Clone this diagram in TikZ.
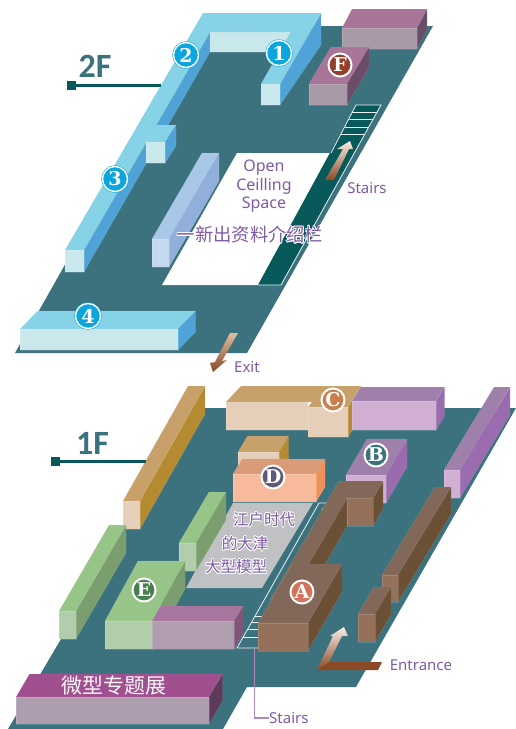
\documentclass[tikz,border=0pt]{standalone}
\usepackage{fontspec}
\usepackage{contour}
\setmainfont{Noto Sans}
\newfontfamily\cjk{Noto Sans CJK SC}
\newfontfamily\badgefont{DejaVu Serif}
\newfontfamily\namefont{Carlito}
\contourlength{0.7pt}
\definecolor{floorteal}{HTML}{3B727E}
\definecolor{stairgreen}{HTML}{07595A}
\definecolor{labelpurple}{HTML}{7F5AA5}
\definecolor{arrowbrown}{HTML}{8B4A25}
\definecolor{arrowpale}{HTML}{F5EEE6}
\definecolor{modelgray}{HTML}{C0C1C3}
\definecolor{skyball}{HTML}{0CA6DF}
\definecolor{ballA}{HTML}{D4735A}
\definecolor{ballC}{HTML}{C9804B}
\definecolor{ballD}{HTML}{5F5A7A}
\definecolor{ballE}{HTML}{4A7F50}
\definecolor{ballF}{HTML}{93402B}
\definecolor{skytop}{HTML}{86D3E8}
\definecolor{skyfront}{HTML}{C8E8EC}
\definecolor{skyside}{HTML}{4FA3D6}
\definecolor{paletop}{HTML}{A9C8E8}
\definecolor{palefront}{HTML}{C4D8F0}
\definecolor{paleside}{HTML}{92AEDA}
\definecolor{plumtop}{HTML}{A87598}
\definecolor{plumfront}{HTML}{A89AA8}
\definecolor{plumside}{HTML}{6A4E68}
\definecolor{lilactop}{HTML}{9F80AB}
\definecolor{lilacfront}{HTML}{D0AFD3}
\definecolor{lilacside}{HTML}{9A6BAE}
\definecolor{tantop}{HTML}{C8A06A}
\definecolor{tanfront}{HTML}{E6CFB8}
\definecolor{tanside}{HTML}{B58B32}
\definecolor{peachtop}{HTML}{D99B78}
\definecolor{peachfront}{HTML}{F7BB9B}
\definecolor{peachside}{HTML}{F0905A}
\definecolor{greentop}{HTML}{97C587}
\definecolor{greenfront}{HTML}{B2CDAC}
\definecolor{greenside}{HTML}{7A9E6E}
\definecolor{mauvetop}{HTML}{A8759E}
\definecolor{mauvefront}{HTML}{B09DAF}
\definecolor{mauveside}{HTML}{7F5676}
\definecolor{winetop}{HTML}{A04F8F}
\definecolor{winefront}{HTML}{AE9DAE}
\definecolor{wineside}{HTML}{5C3A58}
\definecolor{browntop}{HTML}{816858}
\definecolor{brownfront}{HTML}{95705A}
\definecolor{brownside}{HTML}{6B5035}
\tikzset{
  face/.style={draw=white,draw opacity=.15,line width=.4pt},
  badge/.style={circle,draw=white,line width=2pt,text=white,minimum size=23pt,inner sep=0pt,font=\badgefont\bfseries\fontsize{19}{19}\selectfont},
  skybadge/.style={badge,fill=skyball,draw=skyball,double=white,double distance=1.4pt,line width=.5pt,minimum size=25pt},
  caption/.style={text=labelpurple,font=\fontsize{15}{18}\selectfont,inner sep=0pt},
  floorname/.style={text=floorteal,font=\namefont\bfseries\fontsize{34}{34}\selectfont,inner sep=0pt},
  cnlabel/.style={text=labelpurple,font=\cjk\fontsize{15.5}{15.5}\selectfont,inner sep=0pt},
  leader/.style={draw=stairgreen,line width=2.2pt},
  stairline/.style={draw=white!90!floorteal,line width=.8pt}
}
% palette, x left, x right, y top, y bottom, shift right, shift back
\newcommand\prism[7]{
  \fill[face,fill=#1top] (#2,#4) -- (#3,#4) -- ++(#6,-#7) -- (#2+#6,#4-#7) -- cycle;
  \fill[face,fill=#1side] (#3,#4) -- ++(#6,-#7) -- ++(0,#5-#4) -- (#3,#5) -- cycle;
  \fill[face,fill=#1front] (#2,#4) rectangle (#3,#5);
}
\begin{document}
\begin{tikzpicture}[x=1pt,y=-1pt]
  \useasboundingbox (0,0) rectangle (516,729);
  \begin{scope}
    \fill[floorteal] (200,26) -- (433,26) -- (247,353) -- (15,353) -- cycle;
    \fill[white] (162,285) -- (258,285) -- (331,153) -- (237,153) -- cycle;
    \fill[stairgreen] (258,285) -- (281,285) -- (381,105) -- (356,105) -- cycle;
    \draw[stairline] (258,285) -- (281,285) -- (381,105) -- (356,105) -- (331,153);
    \foreach \s in {112,119,127,134}
      \draw[stairline] ({356-(\s-105)*.5444},\s) -- ({381-(\s-105)*.5556},\s);
    \shade[bottom color=arrowbrown,top color=arrowpale] (325,180) -- (334,180) -- (349,149) -- (353,149) -- (350,141) -- (337,149) -- (343,149) -- cycle;

    \fill[face,fill=skyside] (84,250) -- (210,32) -- (210,52) -- (84,272) -- cycle;
    \fill[face,fill=skyside] (280,84) -- (321,13) -- (321,45) -- (280,105) -- cycle;
    \fill[face,fill=skyfront] (210,32) -- (291,32) -- (279,52) -- (210,52) -- cycle;
    \fill[face,fill=skytop] (65,250) -- (203,13) -- (321,13) -- (280,84) -- (261,84) -- (291,32) -- (210,32) -- (84,250) -- cycle;
    \fill[face,fill=skyfront] (65,250) rectangle (84,272);
    \fill[face,fill=skyfront] (261,84) rectangle (280,105);
    \prism{sky}{146}{165}{142}{163}{11}{17}
    \prism{sky}{20}{178}{329}{350}{17.5}{18}
    \prism{pale}{152}{169}{239}{267}{50}{86}
    \prism{plum}{342}{417}{28}{49}{10}{19}
    \prism{plum}{309}{347}{84}{105}{22}{37}

    \node[floorname] (nameTwo) at (95,66) {2F};
    \node[fill=stairgreen,minimum size=9pt,inner sep=0pt] (dotTwo) at (71.5,85.5) {};
    \coordinate (wallTwo) at (161,85.5);
    \draw[leader] (dotTwo) -- (wallTwo);

    \node[skybadge] (one) at (279,53) {1};
    \node[skybadge] (two) at (186,55) {2};
    \node[skybadge] (three) at (115,179) {3};
    \node[skybadge] (four) at (88,316) {4};
    \node[badge,fill=ballF] (letterF) at (340,65) {F};

    \node[caption,font=\fontsize{16}{18.5}\selectfont,align=center] (open) at (264,186.5) {Open\\Ceilling\\Space};
    \node[caption] (stairsTwo) at (367,188) {Stairs};
    \node[cnlabel,font=\cjk\fontsize{18.3}{18.3}\selectfont] (newbooks) at (250,235) {\contour{white}{一新出资料介绍栏}};
    \node[caption] (exit) at (247,367) {Exit};
    \shade[bottom color=arrowbrown,top color=tanfront!80!brown] (230,333) -- (238,333) -- (222,361) -- (227,360) -- (213,372) -- (210,363) -- (215,362) -- cycle;
  \end{scope}

  \begin{scope}
    \fill[floorteal] (8,729) -- (197,408) -- (516,408) -- (356,687) -- (247,687) -- (223,729) -- cycle;
    \fill[modelgray] (233,503) -- (313,503) -- (262,588) -- (186,588) -- cycle;
    \draw[stairline] (322,510) -- (328,503) -- (319,503) -- (237,648) -- (262,648);
    \foreach \s in {616,622,629,637}
      \draw[stairline] ({319-(\s-503)*.5655},\s) -- (275,\s);

    \prism{tan}{123}{140}{501}{529}{65}{115}
    \fill[face,fill=tantop] (226,402) -- (312,402) -- (308,407) -- (348,407) -- (361,386) -- (241,386) -- cycle;
    \fill[face,fill=tanfront] (226,402) rectangle (308,430);
    \fill[face,fill=tanside] (348,407) -- (353,399) -- (353,429) -- (348,437) -- cycle;
    \fill[face,fill=tanfront] (308,407) rectangle (348,437);
    \prism{lilac}{352}{436}{401}{430}{8.5}{14}
    \prism{lilac}{444}{460}{470}{498}{50}{83}
    \prism{lilac}{346}{386}{475}{503}{21}{36}
    \prism{tan}{238}{279}{452}{480}{9.5}{16}
    \prism{peach}{233}{316}{474}{502}{9}{15}

    \fill[face,fill=brownside] (347,498) -- (347,526) -- (310,590) -- (283,590) -- cycle;
    \prism{brown}{347}{373}{498}{526}{10}{17}
    \fill[face,fill=browntop] (383,481) -- (339,481) -- (270,600) -- (288,600) -- (347,498) -- (373,498) -- cycle;
    \prism{brown}{258}{308}{623}{651}{34}{59}
    \prism{brown}{382}{398}{575}{602}{53}{88}
    \prism{brown}{358}{375}{614}{642}{16}{27}

    \prism{green}{59}{76}{611}{639}{50}{86}
    \prism{green}{179}{196}{543}{571}{30}{51}
    \prism{green}{105}{152}{621}{649}{33}{60}
    \prism{mauve}{152}{234}{621}{649}{9}{15}
    \prism{wine}{16}{209}{697}{724}{13.5}{23}

    \shade[bottom color=arrowbrown,top color=arrowpale] (317,670) -- (333,636) -- (330,636) -- (344,627) -- (348,636) -- (342,636) -- (329,662) -- (329,670) -- cycle;
    \fill[arrowbrown] (317,670) -- (378,670) -- (382,662) -- (329,662) -- cycle;

    \node[floorname] (nameOne) at (92.5,443.5) {1F};
    \node[fill=stairgreen,minimum size=9pt,inner sep=0pt] (dotOne) at (55.5,461.5) {};
    \coordinate (wallOne) at (146,461.5);
    \draw[leader] (dotOne) -- (wallOne);

    \node[badge,fill=ballA] (letterA) at (302,592) {A};
    \node[badge,fill=floorteal] (letterB) at (376,455) {B};
    \node[badge,fill=ballC] (letterC) at (333,400) {C};
    \node[badge,fill=ballD] (letterD) at (273,477) {D};
    \node[badge,fill=ballE] (letterE) at (144,590) {E};

    \node[cnlabel] (modelA) at (264,520) {\contour{white}{江户时代}};
    \node[cnlabel] (modelB) at (245,544) {\contour{white}{的大津}};
    \node[cnlabel] (modelC) at (236,567) {\contour{white}{大型模型}};
    \node[cnlabel,text=white!90!lilacfront,font=\cjk\fontsize{21}{21}\selectfont] (small) at (114,686) {微型专题展};

    \node[caption] (entrance) at (421,665) {Entrance};
    \node[caption,anchor=west] (stairsOne) at (269,718) {Stairs};
    \coordinate (stairFoot) at (254.5,649);
    \draw[draw=lilacside!80!white,line width=1.5pt] (stairFoot) |- (stairsOne.west);
  \end{scope}
\end{tikzpicture}
\end{document}
